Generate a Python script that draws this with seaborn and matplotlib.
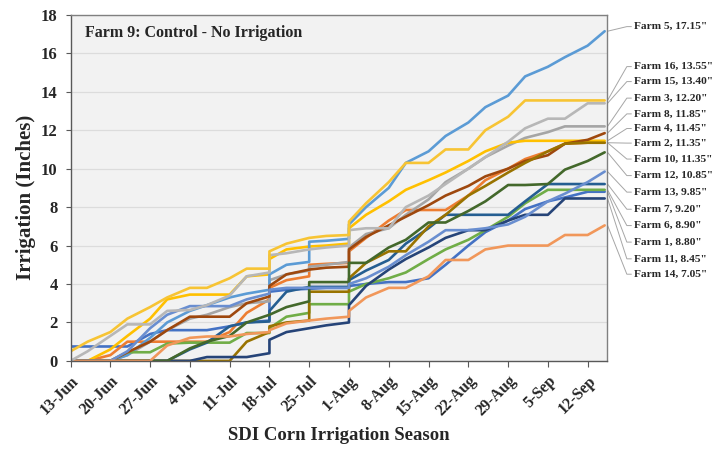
import pandas as pd
import numpy as np
import matplotlib
matplotlib.use('Agg')
import matplotlib.pyplot as plt
import seaborn as sns

# Season days counted from 13-Jun (repeated days = same-day jumps)
season_day = [0, 3, 7, 10, 14, 17, 21, 24, 28, 31, 35, 35, 38, 42, 42, 45,
              49, 49, 52, 56, 59, 63, 66, 70, 73, 77, 80, 84, 87, 91, 94]

# Cumulative irrigation (inches) per farm
farm1 = [0.75, 0.75, 0.75, 0.75, 1.4, 1.6, 1.6, 1.6, 1.8, 2.0, 2.1, 3.6, 3.7, 3.75, 3.75, 3.8,
         3.8, 3.9, 4.0, 4.1, 4.1, 4.3, 5.0, 6.0, 6.7, 7.3, 7.9, 8.3, 8.5, 8.8, 8.8]
farm2 = [0, 0, 0.3, 1.0, 1.0, 1.0, 1.0, 1.0, 1.5, 2.5, 3.2, 3.8, 4.2, 4.4, 5.0, 5.05,
         5.1, 5.7, 6.4, 7.3, 7.85, 7.85, 7.85, 8.6, 9.4, 10.0, 10.5, 10.9, 11.3, 11.35, 11.35]
farm3 = [0, 0, 0, 0.3, 1.0, 1.6, 2.2, 2.4, 2.8, 3.0, 3.1, 4.2, 4.5, 4.7, 4.9, 5.0,
         5.15, 5.9, 6.6, 6.9, 7.6, 8.4, 9.3, 10.0, 10.6, 11.2, 11.6, 11.9, 12.2, 12.2, 12.2]
farm4 = [0, 0, 0.6, 1.3, 2.2, 3.2, 3.45, 3.45, 3.45, 4.4, 4.5, 5.3, 5.8, 5.95, 5.95, 6.0,
         6.1, 6.9, 7.6, 8.3, 8.9, 9.4, 9.8, 10.4, 10.9, 11.35, 11.45, 11.45, 11.45, 11.45, 11.45]
farm5 = [0, 0, 0, 0.3, 1.2, 2.0, 2.6, 2.9, 3.3, 3.5, 3.7, 4.5, 5.0, 5.15, 6.2, 6.25,
         6.35, 7.1, 8.0, 9.0, 10.3, 10.9, 11.7, 12.4, 13.2, 13.8, 14.8, 15.3, 15.8, 16.4, 17.15]
farm6 = [0, 0, 0, 0.45, 0.45, 0.9, 0.95, 0.95, 0.95, 1.45, 1.45, 1.7, 2.3, 2.5, 2.95, 2.95,
         2.95, 3.6, 4.0, 4.3, 4.6, 5.3, 5.8, 6.3, 6.8, 7.5, 8.2, 8.9, 8.9, 8.9, 8.9]
farm7 = [0, 0, 0, 0, 0, 0, 0.6, 0.95, 1.8, 2.0, 2.05, 2.6, 3.6, 3.85, 3.85, 3.85,
         3.85, 4.2, 4.7, 5.25, 6.1, 6.9, 7.6, 7.6, 7.6, 7.6, 8.3, 9.2, 9.2, 9.2, 9.2]
farm8 = [0, 0, 0, 0.45, 1.0, 1.6, 2.3, 2.3, 2.3, 3.0, 3.35, 3.9, 4.5, 4.75, 4.75, 4.85,
         4.9, 5.8, 6.45, 7.05, 7.5, 8.1, 8.6, 9.1, 9.6, 10.0, 10.4, 10.7, 11.3, 11.5, 11.85]
farm10 = [0, 0, 0, 0, 0, 0, 0, 0, 0, 1.0, 1.5, 1.8, 2.0, 2.1, 3.6, 3.6,
          3.6, 4.3, 5.1, 5.7, 5.7, 7.0, 7.6, 8.6, 9.1, 9.8, 10.3, 10.9, 11.3, 11.35, 11.35]
farm11 = [0, 0, 0, 0, 0, 0, 0, 0.2, 0.2, 0.2, 0.4, 1.1, 1.5, 1.7, 1.7, 1.85,
          2.0, 2.9, 3.9, 4.75, 5.3, 5.9, 6.4, 6.8, 6.8, 7.3, 7.6, 7.6, 8.45, 8.45, 8.45]
farm12 = [0, 0, 0, 0, 0, 0, 0.65, 1.0, 1.3, 2.0, 2.4, 2.4, 2.8, 3.1, 4.1, 4.1,
          4.1, 5.1, 5.1, 5.9, 6.3, 7.2, 7.2, 7.8, 8.3, 9.15, 9.15, 9.2, 9.95, 10.4, 10.85]
farm13 = [0, 0, 0, 0.5, 1.7, 2.4, 2.85, 2.85, 2.85, 3.2, 3.5, 3.7, 3.8, 3.8, 3.8, 3.8,
          3.8, 4.0, 4.3, 4.9, 5.5, 6.2, 6.8, 6.8, 6.9, 7.1, 7.5, 8.3, 8.7, 9.3, 9.85]
farm14 = [0, 0, 0, 0, 0, 0.8, 1.2, 1.27, 1.27, 1.4, 1.5, 1.6, 1.95, 2.1, 2.1, 2.2,
          2.3, 2.6, 3.3, 3.8, 3.8, 4.4, 5.25, 5.25, 5.8, 6.0, 6.0, 6.0, 6.55, 6.55, 7.05]
farm15 = [0, 0.5, 1.3, 1.9, 1.9, 2.6, 2.65, 2.9, 3.4, 4.4, 4.6, 5.5, 5.6, 5.8, 5.8, 5.9,
          6.0, 6.8, 6.9, 6.9, 8.0, 8.6, 9.2, 10.0, 10.6, 11.4, 12.1, 12.6, 12.6, 13.4, 13.4]
farm16 = [0.5, 1.0, 1.5, 2.2, 2.8, 3.3, 3.8, 3.8, 4.3, 4.8, 4.8, 5.7, 6.1, 6.4, 6.4, 6.5,
          6.55, 7.25, 8.2, 9.3, 10.3, 10.3, 11.0, 11.0, 12.0, 12.7, 13.55, 13.55, 13.55, 13.55, 13.55]

farm_names = ['Farm 1', 'Farm 2', 'Farm 3', 'Farm 4', 'Farm 5', 'Farm 6', 'Farm 7', 'Farm 8',
              'Farm 10', 'Farm 11', 'Farm 12', 'Farm 13', 'Farm 14', 'Farm 15', 'Farm 16']
farm_values = [farm1, farm2, farm3, farm4, farm5, farm6, farm7, farm8,
               farm10, farm11, farm12, farm13, farm14, farm15, farm16]
farm_colors = ['#4472C4', '#ED7D31', '#A5A5A5', '#FFC000', '#5B9BD5', '#70AD47', '#255E91', '#9E480E',
               '#997300', '#264478', '#43682B', '#698ED0', '#F1975A', '#B7B7B7', '#F7C434']

tick_days = [0, 7, 14, 21, 28, 35, 42, 49, 56, 63, 70, 77, 84, 91]
tick_labels = ['13-Jun', '20-Jun', '27-Jun', '4-Jul', '11-Jul', '18-Jul', '25-Jul', '1-Aug',
               '8-Aug', '15-Aug', '22-Aug', '29-Aug', '5-Sep', '12-Sep']

# label order on the right side and their heights (inches)
label_order = ['Farm 5', 'Farm 16', 'Farm 15', 'Farm 3', 'Farm 8', 'Farm 4', 'Farm 2', 'Farm 10',
               'Farm 12', 'Farm 13', 'Farm 7', 'Farm 6', 'Farm 1', 'Farm 11', 'Farm 14']
label_y = [17.39, 15.31, 14.53, 13.67, 12.85, 12.09, 11.33, 10.5,
           9.64, 8.78, 7.89, 7.04, 6.18, 5.31, 4.51]

frames = []
for name, vals in zip(farm_names, farm_values):
    frames.append(pd.DataFrame({'Day': season_day, 'Irrigation': vals, 'Farm': name}))
df = pd.concat(frames, ignore_index=True)
palette = dict(zip(farm_names, farm_colors))

sns.set_style('white')
plt.rcParams['font.family'] = ['Liberation Serif', 'DejaVu Serif']
plt.rcParams['font.weight'] = 'bold'

fig = plt.figure(figsize=(7.2, 4.58), dpi=100)
ax = fig.add_axes([0.098, 0.212, 0.745, 0.7555])
ax.set_facecolor('#F2F2F2')

sns.lineplot(data=df, x='Day', y='Irrigation', hue='Farm', hue_order=farm_names,
             palette=palette, estimator=None, sort=False, linewidth=1.9,
             legend=False, ax=ax)

ax.set_xlim(0, 94.4)
ax.set_ylim(0, 18)
ax.set_yticks(range(0, 19, 2))
ax.set_xticks(tick_days)
ax.set_xticklabels(tick_labels, rotation=45, ha='right', rotation_mode='anchor',
                   fontsize=11.5, fontweight='bold')
ax.tick_params(axis='y', labelsize=12, direction='out', length=3.3, pad=6, color='#595959', left=True)
ax.tick_params(axis='x', direction='out', length=4.5, pad=4, color='#595959', bottom=True)
for lab in ax.get_yticklabels():
    lab.set_fontweight('bold')

ax.yaxis.grid(True, color='#DCDCDC', linewidth=0.9)
ax.set_axisbelow(True)
for side in ['top', 'right']:
    ax.spines[side].set_color('#808080')
for side in ['left', 'bottom']:
    ax.spines[side].set_color('#595959')
for sp in ax.spines.values():
    sp.set_linewidth(1.0)

ax.set_ylabel('Irrigation (Inches)', fontsize=15, fontweight='bold')
ax.yaxis.set_label_coords(-0.064, 0.474)
ax.set_xlabel('SDI Corn Irrigation Season', fontsize=13.5, fontweight='bold')
ax.xaxis.set_label_coords(0.5, -0.19)

ax.text(0.027, 0.948, 'Farm 9: Control - No Irrigation', transform=ax.transAxes,
        fontsize=11.5, fontweight='bold', va='center', ha='left')

# right-hand labels with leader lines
end_vals = dict(zip(farm_names, [v[-1] for v in farm_values]))
for name, ly in zip(label_order, label_y):
    ev = end_vals[name]
    ax.plot([94.5, 97.9, 98.7], [ev, ly, ly], color='#A6A6A6', linewidth=0.7, clip_on=False)
    ax.text(99.15, ly, f'{name}, {ev:.2f}"', fontsize=8.2, fontweight='bold',
            va='center', ha='left', clip_on=False)

fig.savefig('out.png', dpi=100)
plt.close(fig)
